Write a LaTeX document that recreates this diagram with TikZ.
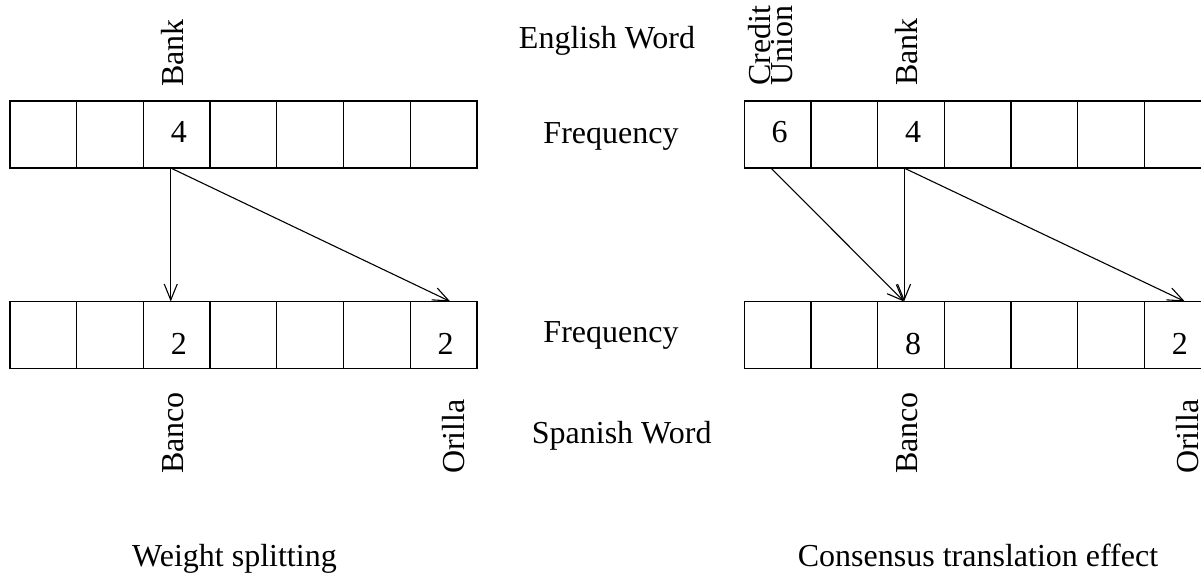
\documentclass[tikz,border=0pt]{standalone}
\usepackage{fontspec}
\setmainfont{Liberation Serif}
\usetikzlibrary{arrows.meta,calc}
\begin{document}
\begin{tikzpicture}[x=1pt,y=-1pt,
  every node/.style={font=\fontsize{32}{22}\selectfont},
  cell/.style={draw,line width=1.3pt,minimum width=66.7pt,minimum height=67pt,inner sep=0pt,outer sep=0pt},
  txt/.style={anchor=base,inner sep=0pt},
  vlab/.style={rotate=90,anchor=west,inner sep=0pt},
  conn/.style={line width=1.1pt,-{Straight Barb[length=16pt,width=13pt,line width=1.1pt]}}]
\useasboundingbox (0,0) rectangle (1201,573);
% cells
\foreach \i in {1,...,7}{
  \node[cell] (lt\i) at ({10+66.7*(\i-0.5)},134.5) {};
  \node[cell] (lb\i) at ({10+66.7*(\i-0.5)},335) {};
  \node[cell] (rt\i) at ({744.3+66.7*(\i-0.5)},134.5) {};
  \node[cell] (rb\i) at ({744.3+66.7*(\i-0.5)},335) {};
}
% numbers
\node[txt] (n1) at ($(lt3.center)+(2,8)$) {4};
\node[txt] (n2) at ($(lb3.center)+(2,19.5)$) {2};
\node[txt] (n3) at ($(lb7.center)+(2,19.5)$) {2};
\node[txt] (n4) at ($(rt1.center)+(2,8)$) {6};
\node[txt] (n5) at ($(rt3.center)+(2,8)$) {4};
\node[txt] (n6) at ($(rb3.center)+(2,19.5)$) {8};
\node[txt] (n7) at ($(rb7.center)+(2,19.5)$) {2};
% vertical labels
\node[vlab] (bank1) at (173,87) {Bank};
\node[vlab] (banco1) at (173,474) {Banco};
\node[vlab] (orilla1) at (453.5,474) {Orilla};
\node[vlab,align=left] (cu) at (771,86) {Credit\\Union};
\node[vlab] (bank2) at (907,86) {Bank};
\node[vlab] (banco2) at (907.5,474) {Banco};
\node[vlab] (orilla2) at (1188,474) {Orilla};
% middle labels
\node[txt] (ew) at (607,48) {English Word};
\node[txt] (f1) at (611,143) {Frequency};
\node[txt] (f2) at (611,342) {Frequency};
\node[txt] (sw) at (621.7,443) {Spanish Word};
% captions
\node[txt] (c1) at (234.5,566) {Weight splitting};
\node[txt] (c2) at (978,566) {Consensus translation effect};
% arrows
\coordinate (a1) at ($(lt3.south)+(-6,0)$);
\coordinate (b1) at ($(lb3.north)+(-6,0)$);
\coordinate (b2) at ($(lb7.north)+(6.7,0)$);
\draw[conn] (a1) -- (b1);
\draw[conn] (a1) -- (b2);
\coordinate (a2) at ($(rt1.south)+(-6.7,0)$);
\coordinate (a3) at ($(rt3.south)+(-7,0)$);
\coordinate (b3) at ($(rb3.north)+(-7,0)$);
\coordinate (b4) at ($(rb7.north)+(7,0)$);
\draw[conn] (a2) -- (b3);
\draw[conn] (a3) -- (b3);
\draw[conn] (a3) -- (b4);
\end{tikzpicture}
\end{document}
